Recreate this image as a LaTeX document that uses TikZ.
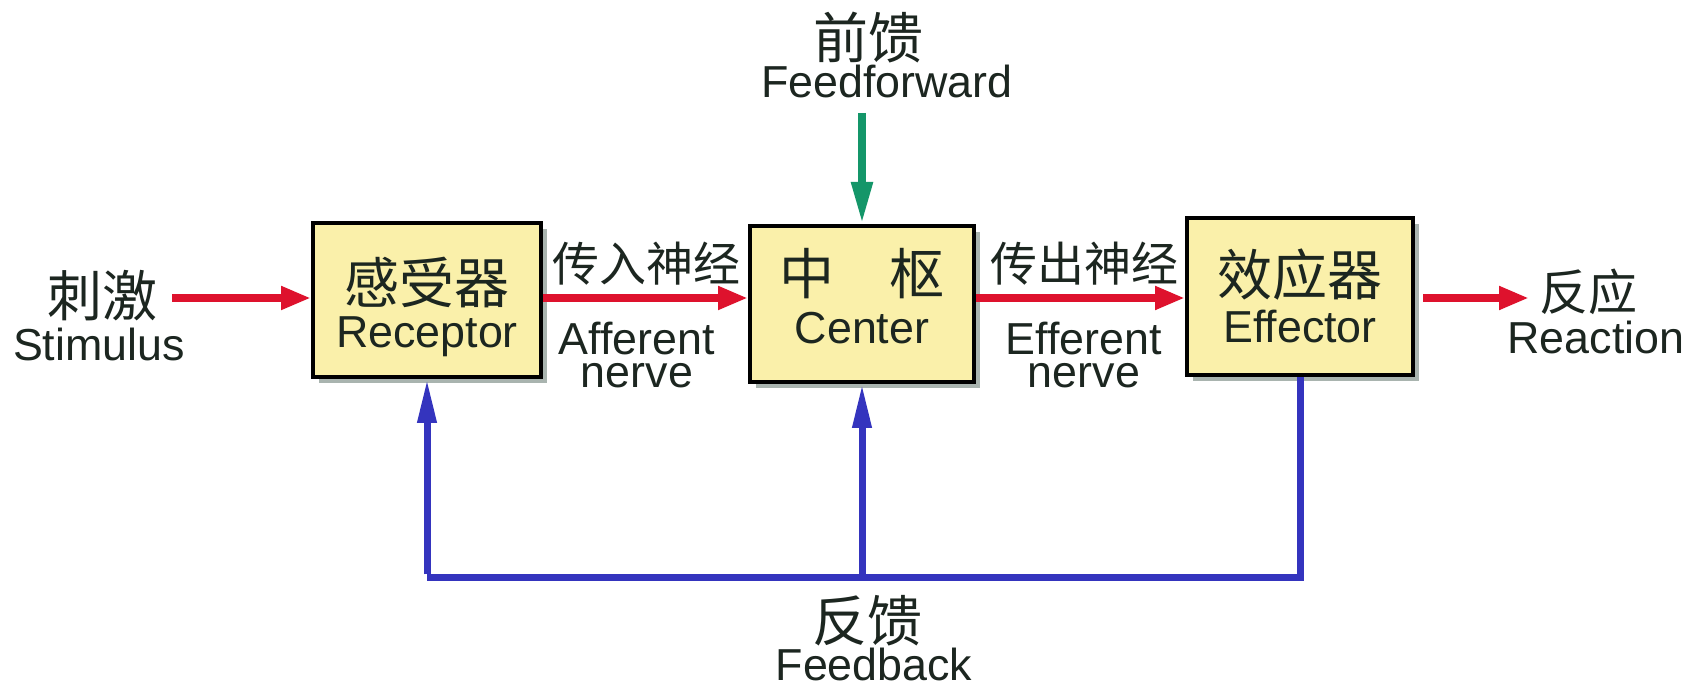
\documentclass[tikz,border=0pt]{standalone}
\usepackage{fontspec}
\setmainfont{Liberation Sans}
\newfontfamily\cjk{Noto Sans CJK SC}
\usetikzlibrary{arrows.meta,shadows}
\definecolor{boxfill}{RGB}{250,240,170}
\definecolor{txt}{RGB}{28,38,32}
\definecolor{redarr}{RGB}{222,18,45}
\definecolor{bluearr}{RGB}{52,52,190}
\definecolor{greenarr}{RGB}{20,150,105}
\definecolor{shadowc}{RGB}{100,120,110}
\begin{document}
\begin{tikzpicture}[x=0.5pt,y=-0.5pt,
  blockbox/.style={draw=black,line width=2pt,fill=boxfill,inner sep=0pt,
    drop shadow={shadow xshift=3pt,shadow yshift=-3pt,fill=shadowc,opacity=0.55}},
  cjkbig/.style={text=txt,font=\cjk\fontsize{27.5}{30}\selectfont,inner sep=0pt},
  cjkmid/.style={text=txt,font=\cjk\fontsize{23.5}{26}\selectfont,inner sep=0pt},
  latin/.style={text=txt,font=\fontsize{22.4}{26}\selectfont,inner sep=0pt},
  latin2/.style={text=txt,font=\fontsize{22.4}{16.5}\selectfont,inner sep=0pt,align=center},
  redarrow/.style={draw=redarr,line width=4pt,-{Triangle[length=15pt,width=11pt]}},
  bluearrow/.style={draw=bluearr,line width=3.5pt,-{Triangle[length=22pt,width=9pt]}},
  blueline/.style={draw=bluearr,line width=3.5pt,line join=miter},
  greenarrow/.style={draw=greenarr,line width=4pt,-{Triangle[length=21pt,width=10pt]}}]
\useasboundingbox (0,0) rectangle (1688,688);
\fill[white] (0,0) rectangle (1688,688);

% blocks
\node[blockbox,minimum width=114pt,minimum height=77pt] (rec) at (427,300) {};
\node[blockbox,minimum width=112pt,minimum height=78pt] (cen) at (862,304) {};
\node[blockbox,minimum width=113pt,minimum height=78.5pt] (eff) at (1300,296.5) {};

% block texts
\node[cjkbig] (recc) at (427,282) {感受器};
\node[latin] (rece) at (427,337) {Receptor};
\node[cjkbig] (cenc) at (862,274) {中\hspace{1em}枢};
\node[latin] (cene) at (862,328) {Center};
\node[cjkbig] (effc) at (1300,275) {效应器};
\node[latin] (effe) at (1300,327) {Effector};

% outer labels
\node[cjkbig] (stic) at (102,296) {刺激};
\node[latin] (stie) at (99,344) {Stimulus};
\node[cjkmid,font=\cjk\fontsize{24.5}{27}\selectfont] (reac) at (1588,292) {反应};
\node[latin] (reae) at (1596,337) {Reaction};
\node[cjkbig] (ffc) at (868,38) {前馈};
\node[latin] (ffe) at (887,81) {Feedforward};
\node[cjkbig] (fbc) at (867,621) {反馈};
\node[latin] (fbe) at (874,664) {Feedback};

% nerve labels
\node[cjkmid] (affc) at (646,264) {传入神经};
\node[latin2,anchor=north] (affe) at (637,322) {Afferent\\nerve};
\node[cjkmid] (effnc) at (1084,264) {传出神经};
\node[latin2,anchor=north] (effne) at (1084,322) {Efferent\\nerve};

% coordinates for free ends
\coordinate (stiend) at (172,298);
\coordinate (reaend) at (1529,298);
\coordinate (ffstart) at (862,113);
\coordinate (fb) at (0,578);

% red arrows
\draw[redarrow] (stiend) -- (rec.west |- stiend);
\draw[redarrow] (rec.east |- stiend) -- (cen.west |- stiend);
\draw[redarrow] (cen.east |- stiend) -- (eff.west |- stiend);
\draw[redarrow] ([xshift=4pt]eff.east |- stiend) -- (reaend);

% feedforward
\draw[greenarrow] (ffstart) -- (cen.north);

% feedback
\draw[blueline] (eff.south) -- (eff.south |- fb) -- (rec.south |- fb);
\draw[bluearrow] ([yshift=1.75pt]rec.south |- fb) -- (rec.south);
\draw[bluearrow] (cen.south |- fb) -- (cen.south);
\end{tikzpicture}
\end{document}
